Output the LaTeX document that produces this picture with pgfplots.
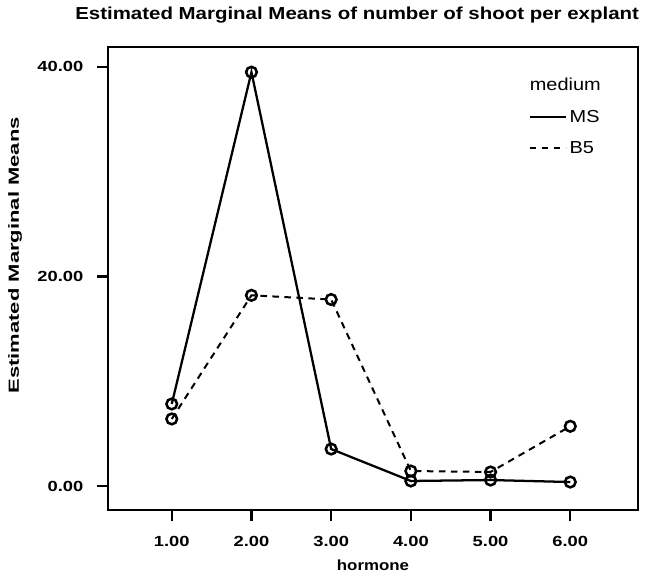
\documentclass[border=0pt]{standalone}
\usepackage{fontspec}
\setmainfont{Liberation Sans}
\usepackage{graphicx}
\usepackage{pgfplots}
\pgfplotsset{compat=1.18}
\newcommand{\tl}[1]{\scalebox{1.25}[1]{#1}}
\begin{document}
\begin{tikzpicture}
\path[use as bounding box] (-81pt,-48.75pt) rectangle (405pt,382.5pt);
\begin{axis}[
  scale only axis,
  width=397.5pt, height=347.25pt,
  xmin=0.2, xmax=6.85, ymin=-2.29, ymax=41.9,
  axis line style={line width=2.2pt},
  xtick={1,2,3,4,5,6},
  xticklabels={\tl{1.00},\tl{2.00},\tl{3.00},\tl{4.00},\tl{5.00},\tl{6.00}},
  ytick={0,20,40},
  yticklabels={\tl{0.00},\tl{20.00},\tl{40.00}},
  tick align=outside,
  major tick length=8pt,
  tick style={line width=1.6pt, black},
  xtick pos=bottom, ytick pos=left,
  /pgf/number format/assume math mode=true,
  ticklabel style={font=\fontsize{11}{13}\selectfont\bfseries},
  xticklabel style={yshift=-8pt},
  yticklabel style={xshift=-7pt},
  xlabel={\fontsize{11}{13}\selectfont\bfseries\scalebox{1.15}[1]{hormone}},
  ylabel={\fontsize{11}{13}\selectfont\bfseries\scalebox{1.5}[1]{Estimated Marginal Means}},
  xlabel style={at={(rel axis cs:0.5,0)}, anchor=north, yshift=-34pt},
  ylabel style={at={(rel axis cs:0,0.55)}, anchor=south, yshift=61pt},
  title={\fontsize{13}{15}\selectfont\bfseries\scalebox{1.18}[1]{Estimated Marginal Means of number of shoot per explant}},
  title style={at={(rel axis cs:0.47,1)}, anchor=south, yshift=8pt},
  legend style={draw=none, fill=none, at={(rel axis cs:0.785,0.945)}, anchor=north west,
    font=\fontsize{13}{15}\selectfont, row sep=9pt},
  legend cell align=left,
  legend image code/.code={\draw[#1] (0pt,0pt) -- (27pt,0pt);},
  clip=false,
]
\addplot[black, line width=1.7pt, mark=o, mark size=4pt, mark options={solid, line width=1.9pt}, forget plot]
  coordinates {(1,7.83) (2,39.5) (3,3.53) (4,0.48) (5,0.57) (6,0.38)};
\addplot[black, line width=1.5pt, dash pattern=on 5pt off 4pt, mark=o, mark size=4pt, mark options={solid, line width=1.9pt}, forget plot]
  coordinates {(1,6.4) (2,18.2) (3,17.8) (4,1.43) (5,1.34) (6,5.7)};
\addlegendimage{empty legend}
\addlegendentry{\hspace{-1.05cm}\scalebox{1.15}[1]{medium}}
\addlegendimage{black, line width=2pt}
\addlegendentry{\scalebox{1.15}[1]{MS}}
\addlegendimage{black, line width=1.5pt, dash pattern=on 5pt off 4pt}
\addlegendentry{\scalebox{1.15}[1]{B5}}
\end{axis}
\end{tikzpicture}
\end{document}
